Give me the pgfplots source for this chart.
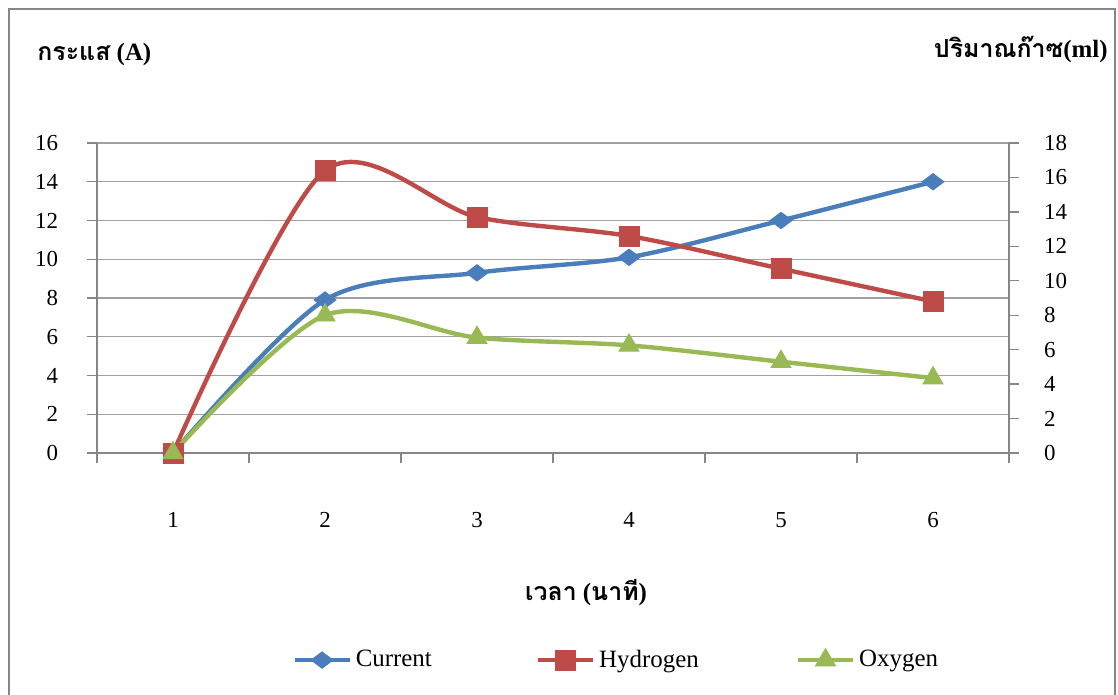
\documentclass[border=0pt]{standalone}
\usepackage{pgfplots}
\pgfplotsset{compat=1.18}
\usepackage{fontspec}
\setmainfont{Liberation Serif}
\newfontfamily\thaifont[Script=Thai]{Loma}

\definecolor{curblue}{HTML}{4A7EBB}
\definecolor{hydred}{HTML}{BE4B48}
\definecolor{oxgreen}{HTML}{98B954}
\definecolor{gridgray}{HTML}{A0A0A0}
\definecolor{axisgray}{HTML}{868686}

\pgfplotsset{
  chartbase/.style={
    at={(48.5bp,-226.5bp)}, anchor=south west,
    scale only axis, width=456bp, height=155bp,
    xmin=0.5, xmax=6.5, ymin=0, clip=false,
    tick align=outside, major tick length=5bp,
    tick style={axisgray, line width=0.7bp},
    axis line style={axisgray, line width=0.7bp},
    ticklabel style={font=\fontsize{11.5}{13}\selectfont},
    /pgf/number format/assume math mode=true,
  },
  currentline/.style={curblue, line width=2.2bp, smooth,
    mark=diamond*, mark size=5.5bp, mark options={solid, line width=0.4bp, rotate=90}},
  hydrogenline/.style={hydred, line width=2.2bp, smooth,
    mark=square*, mark size=5bp, mark options={solid, line width=0.4bp}},
  oxygenline/.style={oxgreen, line width=2.2bp, smooth,
    mark=triangle*, mark size=5.8bp, mark options={solid, line width=0.4bp}},
}

\begin{document}
\begin{tikzpicture}
\path[use as bounding box] (0,0) rectangle (559bp,-347.5bp);
\draw[axisgray, line width=1.2bp] (4.5bp,-352.5bp) -- (4.5bp,-4.5bp) -- (557.5bp,-4.5bp) -- (557.5bp,-352.5bp);

% primary axis: current (A)
\begin{axis}[chartbase,
  ymax=16, ytick={0,2,...,16},
  axis y line*=left, axis x line*=bottom,
  ymajorgrids, grid style={gridgray, line width=0.7bp},
  xtick={0.5,1.5,...,6.5}, x tick label as interval,
  xticklabels={1,2,3,4,5,6},
  xticklabel style={yshift=-21bp},
  yticklabel style={xshift=-11bp},
]
\addplot[currentline] coordinates {(1,0) (2,7.9) (3,9.3) (4,10.1) (5,12) (6,14)};
\end{axis}

% secondary axis: gas volume (ml)
\begin{axis}[chartbase,
  ymax=18, ytick={0,2,...,18},
  axis y line*=right, hide x axis,
  yticklabel style={xshift=9bp},
  legend columns=3,
  legend style={at={(axis description cs:0.2138,-0.668)}, anchor=west,
    draw=none, fill=none, inner sep=0pt,
    font=\fontsize{12.5}{14}\selectfont,
    /tikz/column 2/.style={column sep=50bp},
    /tikz/column 4/.style={column sep=46.5bp}},
  legend cell align=left,
  legend image code/.code={\draw[mark repeat=2, mark phase=2, #1]
    plot coordinates {(0bp,0bp) (13.75bp,0bp) (27.5bp,0bp)};},
]
\addlegendimage{currentline}
\addlegendentry{Current}
\addplot[hydrogenline] coordinates {(1,0) (2,16.4) (3,13.7) (4,12.6) (5,10.7) (6,8.8)};
\addlegendentry{Hydrogen}
\addplot[oxygenline] coordinates {(1,0) (2,8.0) (3,6.7) (4,6.25) (5,5.3) (6,4.35)};
\addlegendentry{Oxygen}
\end{axis}

\node[anchor=west, inner sep=0pt, font=\fontsize{12.5}{14}\selectfont\bfseries] at (18.5bp,-27.5bp)
  {{\thaifont กระแส} (A)};
\node[anchor=east, inner sep=0pt, font=\fontsize{12.5}{14}\selectfont\bfseries] at (554bp,-25bp)
  {{\thaifont ปริมาณก๊าซ}(ml)};
\node[font=\fontsize{12.5}{14}\selectfont\bfseries] at (293bp,-296.5bp)
  {{\thaifont เวลา} ({\thaifont นาที})};
\end{tikzpicture}
\end{document}
